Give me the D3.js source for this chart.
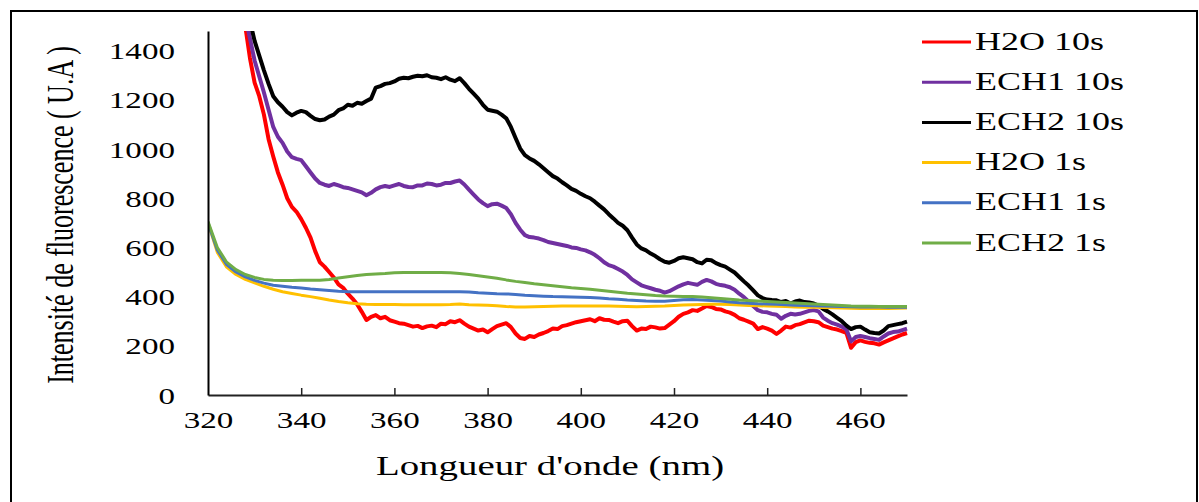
<!DOCTYPE html>
<html>
<head>
<meta charset="utf-8">
<script src="https://cdn.jsdelivr.net/npm/d3@7"></script>
<style>
  html, body { margin: 0; padding: 0; background: #fff; }
  svg { display: block; }
</style>
</head>
<body>
<svg id="chart" width="1199" height="502"></svg>
<script>
// ── data ──
// 10 s spectra, 1 nm steps
const wl10 = [
  320,321,322,323,324,325,326,327,328,329, 330,331,332,333,334,335,336,337,338,339,
  340,341,342,343,344,345,346,347,348,349, 350,351,352,353,354,355,356,357,358,359,
  360,361,362,363,364,365,366,367,368,369, 370,371,372,373,374,375,376,377,378,379,
  380,381,382,383,384,385,386,387,388,389, 390,391,392,393,394,395,396,397,398,399,
  400,401,402,403,404,405,406,407,408,409, 410,411,412,413,414,415,416,417,418,419,
  420,421,422,423,424,425,426,427,428,429, 430,431,432,433,434,435,436,437,438,439,
  440,441,442,443,444,445,446,447,448,449, 450,451,452,453,454,455,456,457,458,459,
  460,461,462,463,464,465,466,467,468,469, 470
];
const h2o10 = [
  2600,2450,2300,2150,2000,1870,1750,1620,1500,1370, 1270,1215,1140,1040,970,905,855,800,765,745,
  715,680,640,585,540,522,500,478,450,436, 412,392,369,338,305,318,325,312,318,304,
  298,292,290,284,278,281,272,279,282,276, 290,288,300,296,304,290,278,270,262,266,
  255,268,280,286,292,276,250,232,228,240, 236,246,252,260,270,268,280,284,290,296,
  300,304,308,300,312,306,305,298,292,300, 302,280,262,270,268,278,275,270,272,286,
  300,318,330,336,345,342,352,362,358,350, 348,340,335,326,312,306,298,290,268,276,
  270,262,248,262,278,274,284,288,295,302, 300,296,282,276,270,266,260,252,192,215,
  222,216,212,210,205,214,222,230,238,246, 252
];
const ech1_10 = [
  2500,2350,2200,2070,1950,1830,1720,1630,1540,1450, 1360,1295,1230,1160,1090,1050,1025,990,967,960,
  955,930,905,880,862,855,850,858,852,845, 842,836,830,824,812,822,836,845,850,846,
  852,858,850,846,845,852,852,860,858,852, 855,862,862,868,872,856,835,815,795,780,
  768,776,778,770,760,735,700,672,650,642, 640,636,630,622,618,614,610,606,600,598,
  592,588,580,570,556,540,528,522,512,502, 488,470,458,446,440,434,428,424,416,422,
  432,442,450,456,452,448,460,468,462,452, 447,444,438,428,412,398,380,362,345,338,
  336,330,326,310,322,330,327,330,336,342, 345,340,315,302,292,286,278,266,218,236,
  240,236,231,228,224,238,250,256,258,264, 270
];
const ech2_10 = [
  2600,2450,2300,2150,2000,1900,1800,1700,1600,1520, 1440,1380,1320,1265,1215,1190,1172,1150,1137,1148,
  1155,1150,1135,1122,1117,1120,1132,1140,1158,1165, 1180,1176,1188,1184,1195,1205,1250,1256,1265,1268,
  1275,1286,1290,1288,1294,1298,1296,1300,1292,1290, 1284,1292,1282,1276,1288,1268,1245,1225,1205,1180,
  1160,1156,1152,1140,1125,1090,1045,1002,975,962, 952,938,922,906,890,880,865,852,838,830,
  818,808,800,786,770,755,735,718,700,688, 670,640,612,596,588,575,565,552,542,538,
  545,556,560,556,552,540,535,550,548,536, 528,522,510,498,480,462,445,425,405,394,
  388,386,385,378,382,372,380,384,378,376, 372,364,350,340,328,314,300,282,268,276,
  278,266,255,252,250,262,280,284,288,292, 298
];

// 1 s spectra, 2 nm steps
const wl1 = [
  320,322,324,326,328,330,332,334,336,338,340,342,344,346,348,350,352,354,356,358,
  360,362,364,366,368,370,372,374,376,378,380,382,384,386,388,390,392,394,396,398,
  400,402,404,406,408,410,412,414,416,418,420,422,424,426,428,430,432,434,436,438,
  440,442,444,446,448,450,452,454,456,458,460,462,464,466,468,470
];
const h2o1 = [
  700,580,520,490,470,456,442,430,420,413,406,400,393,386,380,375,371,369,368,368,
  368,367,367,367,367,367,368,370,367,366,365,363,360,358,358,359,360,361,362,362,
  362,362,362,362,361,360,359,360,361,362,364,366,367,368,369,369,368,366,364,363,
  362,361,360,358,357,357,356,355,354,353,352,352,352,352,353,354
];
const ech1_1 = [
  700,590,530,500,480,466,455,446,442,438,435,431,428,425,422,420,420,420,420,420,
  420,420,420,420,420,420,420,420,419,416,414,412,411,409,406,404,402,400,399,398,
  397,396,394,391,389,386,384,382,381,381,384,387,388,386,384,382,378,375,373,371,
  370,369,367,365,364,363,362,361,360,359,358,358,358,357,357,357
];
const ech2_1 = [
  705,600,540,510,490,478,470,467,466,466,467,467,467,470,476,481,486,490,492,494,
  497,498,498,498,498,498,497,494,490,485,480,475,468,462,457,452,448,444,440,436,
  433,430,426,422,418,414,411,408,405,403,402,401,400,398,395,392,389,386,384,382,
  380,378,376,374,372,370,368,366,364,362,361,361,360,360,360,360
];

const seriesNames  = ['H2O 10s', 'ECH1 10s', 'ECH2 10s', 'H2O 1s', 'ECH1 1s', 'ECH2 1s'];
const seriesX      = [wl10, wl10, wl10, wl1, wl1, wl1];
const seriesValues = [h2o10, ech1_10, ech2_10, h2o1, ech1_1, ech2_1];
const seriesColors = ['#FF0000', '#7030A0', '#000000', '#FFC000', '#4472C4', '#70AD47'];
const seriesWidths = [4, 4, 4, 3, 3, 3];

const xTicks = [320, 340, 360, 380, 400, 420, 440, 460];
const yTicks = [0, 200, 400, 600, 800, 1000, 1200, 1400];

// the source picture is stretched sideways, text follows that
const SX = 1.44;
const FONT = '"Liberation Serif", "Times New Roman", serif';

// ── layout ──
const svg = d3.select('#chart');
const L = 208, R = 907, T = 31, B = 395;

const x = d3.scaleLinear([320, 470], [L, R]);
const y = d3.scaleLinear([0, 1480], [B, T]);

// outer frame
svg.append('rect')
  .attr('x', 11).attr('y', 11).attr('width', 1186).attr('height', 500)
  .attr('fill', 'none').attr('stroke', '#000').attr('stroke-width', 2);

// clip for the lines
svg.append('clipPath').attr('id', 'plot-clip')
  .append('rect').attr('x', L).attr('y', T).attr('width', R - L + 2).attr('height', B - T);

// ── lines ──
const lines = svg.append('g').attr('clip-path', 'url(#plot-clip)');
seriesValues.forEach((vals, k) => {
  const xs = seriesX[k];
  const line = d3.line()
    .x((d, i) => x(xs[i]))
    .y(d => y(d));
  lines.append('path')
    .datum(vals)
    .attr('d', line)
    .attr('fill', 'none')
    .attr('stroke', seriesColors[k])
    .attr('stroke-width', seriesWidths[k])
    .attr('stroke-linejoin', 'round');
});

// ── axes ──
const gx = svg.append('g')
  .attr('transform', `translate(0,${B})`)
  .call(d3.axisBottom(x).tickValues(xTicks).tickSize(-7).tickSizeOuter(0).tickFormat(d3.format('d')));
gx.select('.domain').attr('stroke', '#222').attr('stroke-width', 2);
gx.selectAll('.tick line').attr('stroke', '#222').attr('stroke-width', 1.5)
  .filter(d => d === 320).remove();
gx.selectAll('.tick text')
  .attr('y', null).attr('dy', null)
  .attr('transform', `translate(0,33) scale(${SX},1)`)
  .attr('font-family', FONT).attr('font-size', 23).attr('fill', '#000');

const gy = svg.append('g')
  .attr('transform', `translate(${L},0)`)
  .call(d3.axisLeft(y).tickValues(yTicks).tickSize(0).tickSizeOuter(0).tickFormat(d3.format('d')));
gy.select('.domain').attr('stroke', '#000').attr('stroke-width', 2);
gy.selectAll('.tick text')
  .attr('x', null).attr('dy', null)
  .attr('transform', `translate(-33,8) scale(${SX},1)`)
  .attr('text-anchor', 'end')
  .attr('font-family', FONT).attr('font-size', 23).attr('fill', '#000');

// axis titles
svg.append('text')
  .attr('transform', `translate(550,475) scale(${SX},1)`)
  .attr('text-anchor', 'middle')
  .attr('font-family', FONT).attr('font-size', 27)
  .text("Longueur d'onde (nm)");

svg.append('text')
  .attr('transform', `translate(73,215) scale(${SX},1) rotate(-90)`)
  .attr('text-anchor', 'middle')
  .attr('font-family', FONT).attr('font-size', 26)
  .text('Intensité de fluorescence ( U.A )');

// ── legend ──
const lg = svg.append('g').attr('transform', 'translate(922,41)');
seriesNames.forEach((name, k) => {
  const ly = k * 40.2;
  lg.append('line')
    .attr('x1', 0).attr('x2', 49).attr('y1', ly + 1).attr('y2', ly + 1)
    .attr('stroke', seriesColors[k]).attr('stroke-width', 3);
  lg.append('text')
    .attr('transform', `translate(53,${ly + 8.5}) scale(${SX},1)`)
    .attr('font-family', FONT).attr('font-size', 25)
    .text(name);
});
</script>
</body>
</html>
